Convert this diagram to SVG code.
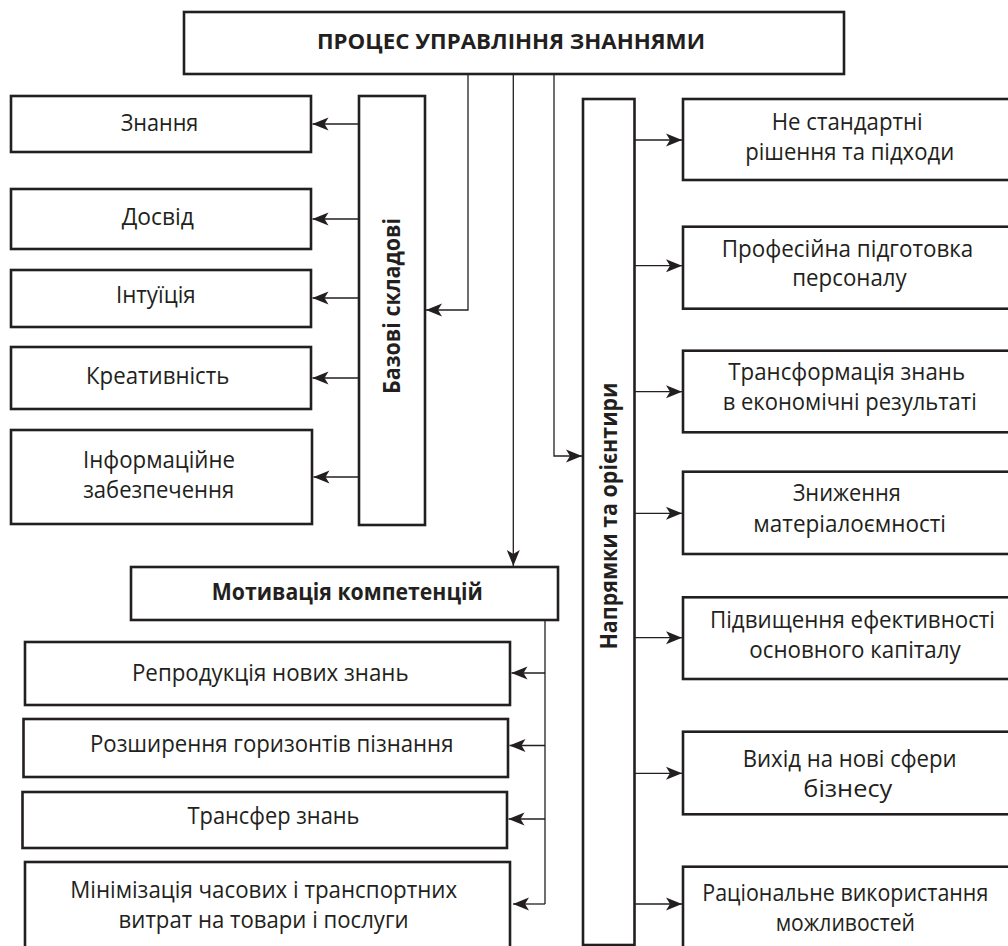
<svg xmlns="http://www.w3.org/2000/svg" width="1008" height="946" viewBox="0 0 1008 946">
<style>
.box{fill:#fff;stroke:#231f20;stroke-width:2.6}
.t{font-family:"Open Sans","Liberation Sans",sans-serif;font-size:23px;fill:#231f20;text-anchor:middle}
.b{font-family:"Open Sans","Liberation Sans",sans-serif;font-weight:bold;fill:#231f20;text-anchor:middle}
.c{fill:none;stroke:#231f20;stroke-width:1.3}
</style>
<defs>
<marker id="ah" markerUnits="userSpaceOnUse" markerWidth="16" markerHeight="14" viewBox="0 0 16 14" refX="16" refY="7" orient="auto">
<path d="M0,0.5 L16,7 L0,13.5 L4,7 Z" fill="#231f20"/>
</marker>
</defs>
<rect width="1008" height="946" fill="#fff"/>
<g id="connectors">
<path class="c" d="M468,74 V310 H426" marker-end="url(#ah)"/>
<path class="c" d="M513.3,74 V566" marker-end="url(#ah)"/>
<path class="c" d="M554,74 V456 H582" marker-end="url(#ah)"/>
<path class="c" d="M359,124 H312.5" marker-end="url(#ah)"/>
<path class="c" d="M359,219 H312.5" marker-end="url(#ah)"/>
<path class="c" d="M359,298 H312.5" marker-end="url(#ah)"/>
<path class="c" d="M359,378 H312.5" marker-end="url(#ah)"/>
<path class="c" d="M359,477 H313.5" marker-end="url(#ah)"/>
<path class="c" d="M545,620 V904"/>
<path class="c" d="M545,673 H511.5" marker-end="url(#ah)"/>
<path class="c" d="M545,745.5 H509.5" marker-end="url(#ah)"/>
<path class="c" d="M545,819 H508.5" marker-end="url(#ah)"/>
<path class="c" d="M545,904 H513" marker-end="url(#ah)"/>
<path class="c" d="M634.5,140 H682" marker-end="url(#ah)"/>
<path class="c" d="M634.5,265.7 H682" marker-end="url(#ah)"/>
<path class="c" d="M634.5,391.7 H682" marker-end="url(#ah)"/>
<path class="c" d="M634.5,513.3 H682" marker-end="url(#ah)"/>
<path class="c" d="M634.5,637.7 H682" marker-end="url(#ah)"/>
<path class="c" d="M634.5,773.3 H682" marker-end="url(#ah)"/>
<path class="c" d="M634.5,904 H682" marker-end="url(#ah)"/>
</g>
<g id="n-title"><rect class="box" x="184" y="12" width="660" height="62"/><text class="b" font-size="21.5" x="511" y="48.5" textLength="388" lengthAdjust="spacingAndGlyphs">ПРОЦЕС УПРАВЛІННЯ ЗНАННЯМИ</text></g>
<g id="n-bazovi"><rect class="box" x="359" y="96" width="66" height="429"/><text class="b" font-size="23.5" transform="translate(400,306) rotate(-90)" textLength="176" lengthAdjust="spacingAndGlyphs">Базові складові</text></g>
<g id="n-znannya"><rect class="box" x="11" y="96" width="300" height="56"/><text class="t" x="159.5" y="130.5" textLength="77.7" lengthAdjust="spacingAndGlyphs">Знання</text></g>
<g id="n-dosvid"><rect class="box" x="11" y="189" width="300" height="60"/><text class="t" x="157.8" y="225" textLength="72.3" lengthAdjust="spacingAndGlyphs">Досвід</text></g>
<g id="n-intuitsiya"><rect class="box" x="11" y="270" width="300" height="57"/><text class="t" x="155.8" y="302.7" textLength="79.7" lengthAdjust="spacingAndGlyphs">Інтуїція</text></g>
<g id="n-kreatyvnist"><rect class="box" x="11" y="347" width="300" height="62"/><text class="t" x="157.7" y="384" textLength="143.3" lengthAdjust="spacingAndGlyphs">Креативність</text></g>
<g id="n-informatsiyne"><rect class="box" x="11" y="430" width="301" height="94"/><text class="t" x="159" y="468.3" textLength="152" lengthAdjust="spacingAndGlyphs">Інформаційне</text><text class="t" x="158.7" y="498.3" textLength="151" lengthAdjust="spacingAndGlyphs">забезпечення</text></g>
<g id="n-motyvatsiya"><rect class="box" x="131" y="567" width="427" height="53"/><text class="b" font-size="23.5" x="347.3" y="600" textLength="271" lengthAdjust="spacingAndGlyphs">Мотивація компетенцій</text></g>
<g id="n-reproduktsiya"><rect class="box" x="25" y="642" width="485" height="63"/><text class="t" x="270.3" y="680.5" textLength="276.7" lengthAdjust="spacingAndGlyphs">Репродукція нових знань</text></g>
<g id="n-rozshyrennya"><rect class="box" x="23.5" y="719" width="484.5" height="58"/><text class="t" x="271.7" y="751.7" textLength="363.5" lengthAdjust="spacingAndGlyphs">Розширення горизонтів пізнання</text></g>
<g id="n-transfer"><rect class="box" x="22.5" y="792" width="484.5" height="56"/><text class="t" x="273.5" y="824" textLength="172" lengthAdjust="spacingAndGlyphs">Трансфер знань</text></g>
<g id="n-minimizatsiya"><rect class="box" x="25" y="862" width="485" height="100"/><text class="t" x="263.7" y="898.3" textLength="387" lengthAdjust="spacingAndGlyphs">Мінімізація часових і транспортних</text><text class="t" x="263.6" y="928.3" textLength="290" lengthAdjust="spacingAndGlyphs">витрат на товари і послуги</text></g>
<g id="n-napryamky"><rect class="box" x="583" y="99" width="51.5" height="846"/><text class="b" font-size="24" transform="translate(617,516) rotate(-90)" textLength="267" lengthAdjust="spacingAndGlyphs">Напрямки та орієнтири</text></g>
<g id="n-nestandartni"><rect class="box" x="683" y="99" width="330" height="81"/><text class="t" x="847.2" y="130" textLength="151" lengthAdjust="spacingAndGlyphs">Не стандартні</text><text class="t" x="849.7" y="160" textLength="209" lengthAdjust="spacingAndGlyphs">рішення та підходи</text></g>
<g id="n-profesiyna"><rect class="box" x="683" y="226.7" width="330" height="82"/><text class="t" x="847.5" y="256.7" textLength="251.6" lengthAdjust="spacingAndGlyphs">Професійна підготовка</text><text class="t" x="849.5" y="286" textLength="114.4" lengthAdjust="spacingAndGlyphs">персоналу</text></g>
<g id="n-transformatsiya"><rect class="box" x="683" y="350.7" width="330" height="81.6"/><text class="t" x="846.7" y="380" textLength="236.7" lengthAdjust="spacingAndGlyphs">Трансформація знань</text><text class="t" x="849.7" y="410" textLength="254" lengthAdjust="spacingAndGlyphs">в економічні результаті</text></g>
<g id="n-znyzhennya"><rect class="box" x="683" y="471.7" width="330" height="82.3"/><text class="t" x="846.8" y="500.5" textLength="108.3" lengthAdjust="spacingAndGlyphs">Зниження</text><text class="t" x="849.7" y="531.5" textLength="192.7" lengthAdjust="spacingAndGlyphs">матеріалоємності</text></g>
<g id="n-pidvyshchennya"><rect class="box" x="683" y="597.3" width="330" height="81.7"/><text class="t" x="852.5" y="628.3" textLength="285" lengthAdjust="spacingAndGlyphs">Підвищення ефективності</text><text class="t" x="855" y="658.3" textLength="211.4" lengthAdjust="spacingAndGlyphs">основного капіталу</text></g>
<g id="n-vykhid"><rect class="box" x="683" y="731.7" width="330" height="82.6"/><text class="t" x="849.7" y="767.3" textLength="214" lengthAdjust="spacingAndGlyphs">Вихід на нові сфери</text><text class="t" x="847.8" y="796.7" textLength="89" lengthAdjust="spacingAndGlyphs">бізнесу</text></g>
<g id="n-ratsionalne"><rect class="box" x="683" y="866.7" width="330" height="100"/><text class="t" x="845.3" y="900.7" textLength="286" lengthAdjust="spacingAndGlyphs">Раціональне використання</text><text class="t" x="845.3" y="930.7" textLength="139.3" lengthAdjust="spacingAndGlyphs">можливостей</text></g>
</svg>
